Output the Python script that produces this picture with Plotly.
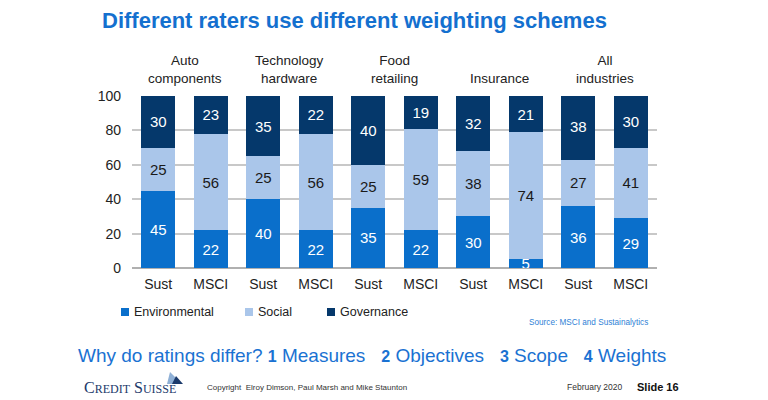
import plotly.graph_objects as go

groups = ["Auto<br>components", "Technology<br>hardware", "Food<br>retailing", "Insurance", "All<br>industries"]
raters = ["Sust", "MSCI"] * 5
environmental = [45, 22, 40, 22, 35, 22, 30, 5, 36, 29]
social = [25, 56, 25, 56, 25, 59, 38, 74, 27, 41]
governance = [30, 23, 35, 22, 40, 19, 32, 21, 38, 30]
series_names = ["Environmental", "Social", "Governance"]
series_colors = ["#0A6FCB", "#AAC6EA", "#05386B"]
label_colors = ["white", "#1a1a1a", "white"]

xpos = list(range(len(raters)))
FONT = "Liberation Sans, Arial, sans-serif"

# page has an 8px body margin: figure is 760x392, placed at (8, 8)
OFF = 8
W, H = 760, 392
L, R, T, B = 124, 111, 88, 132
PW, PH = W - L - R, H - T - B

def px(xr, yr):
    """reference-screenshot pixel -> paper coords"""
    return (xr - OFF - L) / PW, (H - B - (yr - OFF)) / PH

fig = go.Figure()
for name, vals, col, lc in zip(series_names, [environmental, social, governance], series_colors, label_colors):
    fig.add_trace(go.Bar(
        x=xpos, y=vals, name=name, marker=dict(color=col, line=dict(width=0)),
        text=[str(v) for v in vals], textposition="inside", insidetextanchor="middle",
        constraintext="none", textangle=0,
        insidetextfont=dict(color=lc, size=15, family=FONT),
        showlegend=False,
    ))

fig.update_layout(
    barmode="stack", bargap=0.35,
    width=W, height=H,
    margin=dict(l=L, r=R, t=T, b=B),
    paper_bgcolor="white", plot_bgcolor="white",
    font=dict(family=FONT, size=14, color="#222222"),
    xaxis=dict(tickvals=xpos, ticktext=raters, range=[-0.5, 9.5], showgrid=False,
               showline=False, zeroline=False, ticks="", tickfont=dict(size=14, color="#222"),
               ticklabelstandoff=6),
    yaxis=dict(range=[0, 100], tickvals=[0, 20, 40, 60, 80, 100], showgrid=True,
               gridcolor="#C8C8C8", gridwidth=1.5, zeroline=True, zerolinecolor="#B0B0B0",
               zerolinewidth=2, ticks="", tickfont=dict(size=14, color="#222"), ticklabelstandoff=10),
)

# group headings
for i, g in enumerate(groups):
    fig.add_annotation(x=2 * i + 0.5, xref="x", y=1.0, yref="paper", yshift=8, yanchor="bottom",
                       text=g, showarrow=False, font=dict(size=13.5, color="#222"), align="center")

def text_at(xr, yr, text, size, color, family=None, xanchor="left", yanchor="middle"):
    x, y = px(xr, yr)
    f = dict(size=size, color=color)
    if family:
        f["family"] = family
    fig.add_annotation(x=x, y=y, xref="paper", yref="paper", text=text, showarrow=False,
                       xanchor=xanchor, yanchor=yanchor, font=f)

text_at(100, 20, "<b>Different raters use different weighting schemes</b>", 22, "#1470CF")

# legend
for lx, name, col in zip([121, 245, 327], series_names, series_colors):
    x0, y0 = px(lx, 316)
    x1, y1 = px(lx + 8, 308)
    fig.add_shape(type="rect", xref="paper", yref="paper", x0=x0, x1=x1, y0=y0, y1=y1,
                  line=dict(width=0), fillcolor=col)
    text_at(lx + 11, 312, name, 12.5, "#222")

text_at(527, 322, "Source: MSCI and Sustainalytics", 8.2, "#2F7FD6")

def num(n):
    return f"<b><span style='font-size:16px'>{n}</span></b>"

text_at(76, 355, f"Why do ratings differ? {num(1)} Measures   {num(2)} Objectives   {num(3)} Scope   {num(4)} Weights",
        19, "#1A72D2")
text_at(82, 387, "C<span style='font-size:12px'>REDIT</span> S<span style='font-size:12px'>UISSE</span>",
        16, "#1B3A6B", family="Liberation Serif, Times New Roman, serif")
text_at(205, 387, "Copyright  Elroy Dimson, Paul Marsh and Mike Staunton", 8, "#333")
text_at(565, 387, "February 2020", 8.5, "#333")
text_at(635, 387, "<b>Slide 16</b>", 11, "#111")

# sail mark of the logo
for pts, col in [([(167, 384), (170, 372), (182, 384)], "#8FB0D6"),
                 ([(172, 384), (176, 376), (183, 384)], "#1B3A6B")]:
    p = [px(*q) for q in pts]
    fig.add_shape(type="path", xref="paper", yref="paper",
                  path=f"M {p[0][0]} {p[0][1]} L {p[1][0]} {p[1][1]} L {p[2][0]} {p[2][1]} Z",
                  fillcolor=col, line=dict(width=0), layer="below")

fig.write_html("out.html")
